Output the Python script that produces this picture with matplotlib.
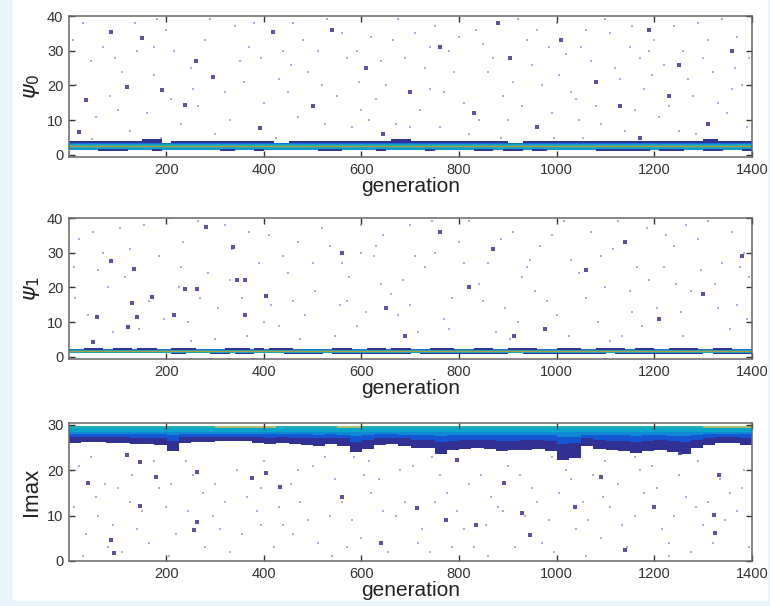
import numpy as np
import matplotlib.pyplot as plt
from matplotlib.colors import LinearSegmentedColormap
from matplotlib.patches import Rectangle

# ---------------- data ----------------
n_gen = 1400

# Imax panel: lower edge of the dense band, one value per 25 generations
lmax_step = 25
lmax_edge = [26.0, 26.2, 26.3, 26.0, 25.9, 25.8, 25.7, 25.5, 24.2, 25.9,
             26.2, 26.3, 26.5, 26.6, 26.4, 26.0, 25.7, 25.9, 25.8, 25.5,
             25.3, 25.7, 25.2, 23.9, 24.8, 25.5, 25.7, 25.2, 24.9, 25.0,
             23.6, 24.5, 24.7, 25.0, 24.8, 24.2, 24.4, 24.6, 24.8, 24.3,
             22.2, 22.8, 25.2, 24.8, 24.5, 24.2, 23.8, 24.3, 24.6, 24.0,
             23.5, 25.0, 25.6, 26.0, 25.9, 25.6]
lmax_yellow = [(290, 430), (540, 590), (1310, 1390)]

# psi panels: runs of generations where the dark rows above / below the band show
psi0_upper = [(1, 190), (215, 420), (455, 700), (705, 900), (930, 1400)]
psi0_raised = [(150, 195), (660, 700), (1300, 1330)]
psi0_lower = [(60, 118), (170, 186), (314, 341), (377, 403), (510, 560), (627, 647),
              (732, 752), (834, 870), (890, 930), (950, 984), (1080, 1190),
              (1214, 1260), (1300, 1340), (1380, 1400)]
psi0_mean = 2.55

psi1_upper = [(26, 74), (94, 129), (143, 184), (210, 258), (321, 375), (380, 400),
              (415, 463), (544, 585), (612, 646), (660, 700), (740, 790), (830, 870),
              (900, 960), (1000, 1050), (1080, 1140), (1160, 1200), (1230, 1290),
              (1320, 1360)]
psi1_lower = [(210, 240), (290, 330), (345, 380), (440, 520), (540, 700), (720, 900),
              (930, 1100), (1120, 1300), (1320, 1400)]
psi1_mean = 1.6

# sparse single counts (generation, value)
psi0_dots = [(30, 38), (70, 31), (110, 24), (160, 12), (200, 36), (230, 9), (280, 33),
             (320, 18), (350, 27), (380, 38), (430, 22), (470, 11), (510, 30), (550, 17),
             (580, 8), (620, 34), (650, 20), (690, 28), (720, 13), (750, 37), (790, 24),
             (820, 6), (850, 32), (890, 17), (920, 39), (950, 26), (990, 12), (1020, 29),
             (1060, 36), (1090, 9), (1120, 25), (1150, 31), (1180, 19), (1210, 11),
             (1240, 37), (1270, 22), (1300, 28), (1330, 15), (1370, 34), (1390, 8),
             (15, 20), (55, 11), (95, 28), (135, 38), (175, 23), (215, 30), (255, 19),
             (300, 6), (340, 37), (400, 15), (440, 30), (490, 24), (530, 39), (570, 28),
             (600, 13), (640, 27), (670, 9), (710, 35), (740, 19), (780, 30), (810, 15),
             (860, 24), (900, 10), (940, 33), (970, 20), (1000, 38), (1040, 16),
             (1070, 27), (1110, 35), (1140, 7), (1170, 28), (1200, 33), (1230, 14),
             (1260, 30), (1290, 38), (1320, 24), (1350, 12), (1380, 20), (45, 27),
             (125, 7), (265, 14), (460, 38), (595, 21), (760, 8), (1005, 23), (1195, 23),
             (85, 17), (190, 5), (370, 31), (525, 9), (675, 39), (835, 36), (1055, 5),
             (1285, 6), (1365, 25), (985, 31),
             (8, 33), (48, 4.5), (100, 13), (140, 30), (180, 39), (210, 16), (250, 25),
             (290, 39), (330, 10), (360, 21), (395, 28), (425, 5), (450, 18), (480, 33),
             (520, 20), (560, 35), (590, 30), (630, 16), (665, 33), (700, 8), (730, 25),
             (770, 18), (800, 34), (840, 10), (870, 28), (910, 21), (930, 14), (960, 36),
             (995, 5), (1030, 18), (1050, 31), (1080, 14), (1100, 39), (1130, 22),
             (1160, 13), (1190, 30), (1220, 26), (1250, 7), (1280, 17), (1310, 33),
             (1340, 39), (1360, 19), (1395, 28), (175, 31), (615, 10), (885, 5),
             (1045, 10), (1155, 37), (455, 26), (740, 31)]
psi0_blobs = [(86, 35.5), (150, 33.6), (261, 27.1), (120, 19.5), (239, 14.4), (296, 22.5),
              (35, 15.8), (392, 7.7), (419, 35.5), (191, 18.7), (21, 6.7), (540, 36),
              (610, 25), (700, 18), (760, 31), (830, 12), (905, 28), (960, 8), (1010, 33),
              (1080, 21), (1130, 14), (1190, 36), (1250, 26), (1310, 9), (1360, 30),
              (645, 6), (880, 38), (1170, 5), (500, 14), (1230, 17)]

psi1_dots = [(20, 34), (60, 25), (105, 37), (145, 8), (185, 29), (225, 20), (265, 39),
             (305, 14), (335, 31), (365, 6), (410, 35), (450, 24), (485, 12), (520, 37),
             (560, 27), (590, 9), (630, 32), (660, 18), (700, 38), (730, 26), (770, 11),
             (800, 33), (840, 21), (875, 7), (910, 36), (945, 28), (980, 16), (1015, 39),
             (1045, 24), (1085, 10), (1115, 31), (1150, 19), (1185, 37), (1220, 26),
             (1255, 13), (1290, 34), (1325, 21), (1355, 8), (1385, 30), (40, 12),
             (80, 20), (125, 31), (165, 16), (205, 40), (245, 10), (285, 24), (320, 38),
             (355, 17), (390, 27), (430, 9), (470, 33), (505, 19), (545, 6), (575, 23),
             (610, 13), (645, 35), (685, 22), (715, 7), (750, 30), (785, 17), (820, 39),
             (860, 27), (895, 14), (930, 23), (965, 32), (1000, 12), (1030, 28),
             (1070, 36), (1100, 20), (1135, 6), (1165, 26), (1205, 14), (1240, 32),
             (1275, 19), (1310, 39), (1340, 27), (1370, 15), (1395, 23), (10, 26),
             (235, 33), (415, 15), (625, 29), (905, 5), (1175, 9), (1265, 38), (555, 15),
             (12, 17), (50, 36), (90, 7), (115, 23), (155, 38), (195, 11), (230, 26),
             (270, 17), (300, 5), (330, 22), (370, 36), (400, 10), (440, 29), (475, 5),
             (500, 27), (535, 32), (570, 16), (600, 38), (640, 21), (675, 12), (710, 29),
             (745, 39), (780, 8), (810, 27), (850, 16), (885, 34), (920, 10), (955, 19),
             (990, 35), (1025, 6), (1060, 17), (1090, 29), (1125, 39), (1155, 13),
             (1190, 22), (1225, 35), (1260, 6), (1295, 25), (1330, 14), (1360, 36),
             (1390, 11), (70, 30), (250, 4.5), (460, 16), (700, 15), (940, 26),
             (1110, 4.5), (1245, 21), (1375, 26), (600, 30)]
psi1_blobs = [(86, 27.7), (133, 25.2), (171, 17.3), (129, 15.4), (140, 11.5), (58, 11.5),
              (122, 8.6), (405, 17.4), (344, 22), (361, 22), (262, 19.6), (239, 19.6),
              (282, 37.3), (337, 31.6), (215, 12), (49, 4.3), (361, 12), (977, 8),
              (912, 6), (560, 30), (650, 14), (760, 36), (820, 20), (1060, 25),
              (1140, 33), (1210, 11), (1300, 18), (1380, 29), (690, 6), (870, 31)]

lmax_dots = [(20, 21), (55, 14), (90, 8), (130, 19), (165, 4), (200, 12), (240, 22),
             (275, 15), (310, 7), (345, 20), (385, 11), (420, 3), (455, 17), (490, 9),
             (525, 23), (560, 13), (600, 5), (635, 18), (670, 10), (705, 21), (740, 2),
             (775, 15), (810, 7), (845, 19), (880, 12), (915, 3), (950, 16), (985, 9),
             (1020, 20), (1055, 13), (1090, 5), (1125, 17), (1160, 10), (1195, 21),
             (1230, 4), (1265, 14), (1300, 8), (1335, 18), (1370, 11), (1395, 3),
             (35, 6), (75, 17), (110, 2), (150, 11), (185, 16), (220, 6), (255, 19),
             (295, 10), (330, 2), (365, 14), (400, 22), (440, 8), (475, 13), (510, 4),
             (545, 18), (580, 9), (620, 15), (655, 2), (690, 13), (725, 7), (760, 19),
             (795, 11), (830, 3), (865, 14), (900, 21), (935, 10), (970, 4), (1005, 15),
             (1040, 7), (1075, 19), (1110, 12), (1145, 3), (1180, 15), (1215, 7),
             (1250, 19), (1285, 12), (1320, 4), (1355, 15), (1385, 20), (60, 10),
             (205, 1), (470, 20), (615, 22), (860, 1), (1100, 22), (1230, 1), (300, 17),
             (10, 12), (45, 23), (80, 3), (100, 16), (140, 7), (175, 22), (210, 17),
             (245, 11), (280, 3), (320, 13), (355, 6), (395, 16), (430, 12), (460, 6),
             (500, 21), (535, 10), (570, 3), (605, 19), (645, 11), (680, 20), (715, 4),
             (750, 13), (785, 3), (820, 17), (855, 8), (890, 11), (925, 19), (960, 13),
             (995, 2), (1030, 18), (1065, 9), (1095, 14), (1135, 8), (1170, 20),
             (1205, 16), (1240, 10), (1275, 2), (1310, 13), (1345, 9), (1380, 16),
             (125, 13), (395, 8), (585, 23), (745, 23), (990, 23), (1160, 23), (1290, 22),
             (30, 1), (540, 1), (1060, 1)]
lmax_blobs = [(120, 23.4), (146, 21.9), (178, 18.6), (263, 19.7), (375, 18.3), (405, 19.4),
              (434, 16.4), (256, 6.8), (146, 12.1), (92, 1.8), (87, 4.6), (39, 17.2),
              (262, 8.7), (946, 5.7), (1140, 2.4), (1324, 6.2), (796, 22.3), (892, 17.2),
              (1092, 18.6), (1252, 23.8), (1323, 10.2), (714, 11.7), (834, 7.9),
              (929, 10.6), (1333, 19), (773, 9), (1038, 12), (560, 14), (640, 4), (1200, 12)]

# ---------------- colours (MATLAB parula-like, white for empty) ----------------
parula = LinearSegmentedColormap.from_list('parula', [
    (0.00, '#352a87'), (0.20, '#0f5cdd'), (0.35, '#1481d6'), (0.50, '#06a4ca'),
    (0.62, '#2eb7a4'), (0.75, '#87bf77'), (0.88, '#e1b952'), (1.00, '#f9fb0e')])
parula.set_bad('white')

plt.rcParams['font.family'] = ['Liberation Sans', 'DejaVu Sans']

fig = plt.figure(figsize=(7.7, 6.06), dpi=100)
fig.patches.append(Rectangle((0, 0), 12 / 770, 1, transform=fig.transFigure,
                             color='#e9f4fb', zorder=0))
fig.patches.append(Rectangle((0, 0), 1, 5 / 606, transform=fig.transFigure,
                             color='#e9f4fb', zorder=0))
fig.patches.append(Rectangle((768 / 770, 0), 2 / 770, 1, transform=fig.transFigure,
                             color='#e9f4fb', zorder=0))

x_edges = np.arange(0.5, n_gen + 1, 10)
x_mid = x_edges[:-1] + 5


def in_runs(g, runs):
    return any(a <= g <= b for a, b in runs)


def psi_grid(rows, upper_runs, upper_rows, lower_runs, lower_rows, raised_runs, raised_rows, y_edges):
    y_mid = (y_edges[:-1] + y_edges[1:]) / 2
    z = np.full((len(y_mid), len(x_mid)), np.nan)
    for j, g in enumerate(x_mid):
        for lo, hi, lev in rows:
            z[(y_mid > lo) & (y_mid < hi), j] = lev
        if in_runs(g, upper_runs):
            z[(y_mid > upper_rows[0]) & (y_mid < upper_rows[1]), j] = 0.03
        if in_runs(g, raised_runs):
            z[(y_mid > raised_rows[0]) & (y_mid < raised_rows[1]), j] = 0.03
        if in_runs(g, lower_runs):
            z[(y_mid > lower_rows[0]) & (y_mid < lower_rows[1]), j] = 0.05
    return np.ma.masked_invalid(z)


def style(ax, ylim, yticks, ylabel):
    ax.set_xlim(0.5, n_gen + 0.5)
    ax.set_ylim(*ylim)
    ax.set_xticks([200, 400, 600, 800, 1000, 1200, 1400])
    ax.set_yticks(yticks)
    ax.tick_params(direction='in', length=4, width=1, top=True, right=True,
                   labelsize=10.5, colors='#333333', pad=4)
    for s in ax.spines.values():
        s.set_color('#666666')
        s.set_linewidth(1.1)
    ax.set_xlabel('generation', fontsize=15, labelpad=0, color='#222222')
    ax.set_ylabel(ylabel, fontsize=16, labelpad=4, color='#222222')


def dots(ax, faint, strong):
    f = np.array(faint)
    s = np.array(strong)
    ax.scatter(f[:, 0], f[:, 1], s=2.5, marker='s', color='#9a96d8', alpha=0.8, lw=0)
    ax.scatter(s[:, 0], s[:, 1], s=5, marker='s', color='#3b3596', alpha=0.85, lw=0)


left, width = 69 / 770, 683 / 770

# --- psi_0
ax1 = fig.add_axes([left, 1 - 157 / 606, width, 141 / 606])
y_edges = np.arange(-0.5, 5.01, 0.25)
z = psi_grid([(1.8, 3.0, 0.5), (2.3, 2.8, 0.56), (3.0, 3.4, 0.3), (1.5, 1.8, 0.42)],
             psi0_upper, (3.4, 3.9), psi0_lower, (1.2, 1.7), psi0_raised, (3.9, 4.4), y_edges)
ax1.pcolormesh(x_edges, y_edges, z, cmap=parula, vmin=0, vmax=1)
dots(ax1, psi0_dots, psi0_blobs)
ax1.axhline(psi0_mean, color='#c49a33', lw=1.0, alpha=0.9)
style(ax1, (-0.6, 40), [0, 10, 20, 30, 40], r'$\psi_0$')

# --- psi_1
ax2 = fig.add_axes([left, 1 - 359 / 606, width, 141 / 606])
y_edges = np.arange(-0.5, 5.01, 0.25)
z = psi_grid([(1.1, 2.0, 0.5), (1.4, 1.8, 0.56), (2.0, 2.3, 0.3)],
             psi1_upper, (2.0, 2.6), psi1_lower, (0.7, 1.1), [], (0, 0), y_edges)
ax2.pcolormesh(x_edges, y_edges, z, cmap=parula, vmin=0, vmax=1)
dots(ax2, psi1_dots, psi1_blobs)
ax2.axhline(psi1_mean, color='#c49a33', lw=1.0, alpha=0.9)
style(ax2, (-0.65, 40), [0, 10, 20, 30, 40], r'$\psi_1$')

# --- Imax
ax3 = fig.add_axes([left, 1 - 561 / 606, width, 138 / 606])
ly_edges = np.arange(20.0, 30.01, 0.25)
ly_mid = (ly_edges[:-1] + ly_edges[1:]) / 2
lx_edges = np.arange(0.5, n_gen + 1, lmax_step)
lx_mid = lx_edges[:-1] + lmax_step / 2
zl = np.full((len(ly_mid), len(lx_mid)), np.nan)
fringe = np.full((len(ly_mid), len(lx_mid)), np.nan)
for j, g in enumerate(lx_mid):
    e = lmax_edge[j]
    deep = max(26.0 - e, 0)  # deeper dips pull the blue layers down too
    zl[(ly_mid > e) & (ly_mid < 29.75), j] = 0.03
    zl[(ly_mid > 27.2 - deep * 0.4) & (ly_mid < 29.75), j] = 0.18
    zl[(ly_mid > 28.0 - deep * 0.2) & (ly_mid < 29.75), j] = 0.38
    zl[(ly_mid > 28.6) & (ly_mid < 29.75), j] = 0.5
    zl[(ly_mid > 29.2) & (ly_mid < 29.75), j] = 0.58
    if in_runs(g, lmax_yellow):
        zl[(ly_mid > 29.25) & (ly_mid < 29.75), j] = 0.8
    fringe[(ly_mid > e - 0.75) & (ly_mid < e), j] = 0.03
ax3.pcolormesh(lx_edges, ly_edges, np.ma.masked_invalid(fringe), cmap=parula,
               vmin=0, vmax=1, alpha=0.45)
ax3.pcolormesh(lx_edges, ly_edges, np.ma.masked_invalid(zl), cmap=parula, vmin=0, vmax=1)
dots(ax3, lmax_dots, lmax_blobs)
style(ax3, (0, 30.4), [0, 10, 20, 30], 'Imax')

fig.savefig('out.png', dpi=100)
